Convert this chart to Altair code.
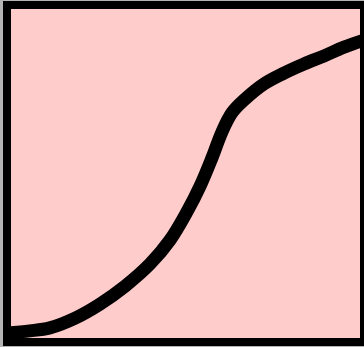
import altair as alt
import pandas as pd

# Curve samples (x and y both on a 0-100 scale)
xs = [0, 6.4, 12.0, 19.1, 26.1, 33.1, 40.1, 45.7, 50.4, 54.1, 57.4, 60.2,
      63.0, 66.4, 72.0, 77.6, 83.2, 88.8, 94.4, 100]
ys = [2.7, 3.3, 4.2, 7.1, 11.3, 16.6, 23.2, 30.3, 38.6, 46.3, 54.6, 62.3,
      68.0, 71.8, 76.6, 79.8, 82.5, 84.9, 87.5, 89.6]

df = pd.DataFrame({"x": xs, "y": ys})

chart = (
    alt.Chart(df)
    .mark_line(color="black", strokeWidth=13, interpolate="catmull-rom", strokeCap="butt")
    .encode(
        x=alt.X("x:Q", scale=alt.Scale(domain=[0, 100], nice=False, zero=False), axis=None),
        y=alt.Y("y:Q", scale=alt.Scale(domain=[0, 100], nice=False, zero=False), axis=None),
    )
    .properties(
        width=357,
        height=337,
        autosize=alt.AutoSizeParams(type="none"),
        padding={"left": 7, "top": 5, "right": 0, "bottom": 5},
        background="#b4b4b4",
    )
    .configure_view(fill="#ffcccc", stroke="black", strokeWidth=8)
)

chart.save("out.html", embed_options={"renderer": "svg", "actions": False})
